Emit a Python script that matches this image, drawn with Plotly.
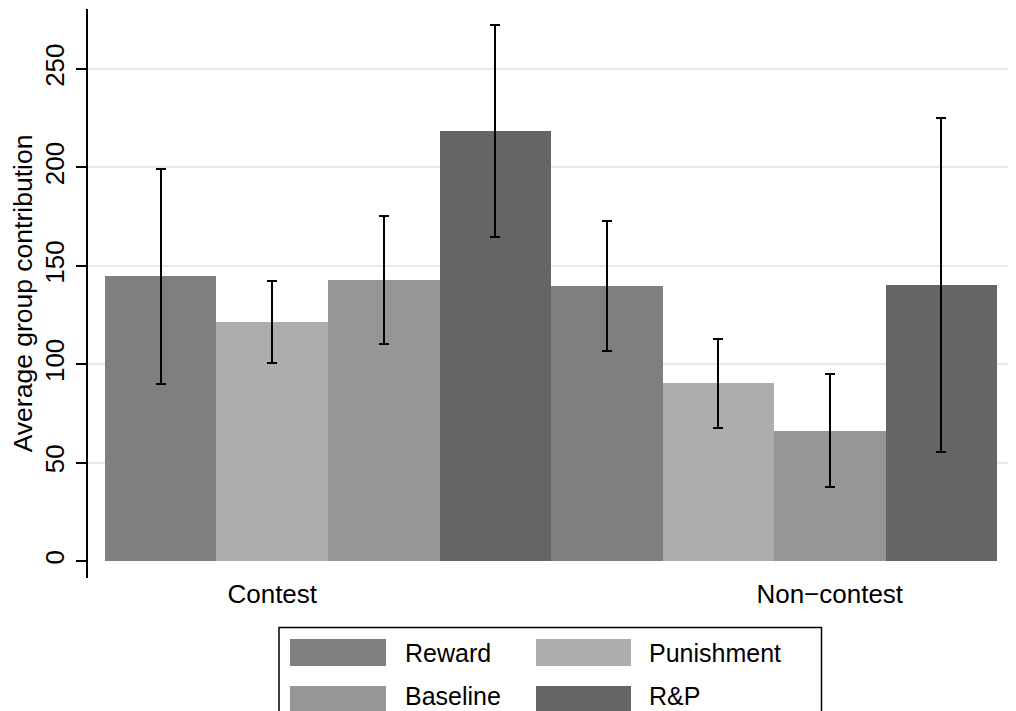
import plotly.graph_objects as go

# ---- data ----
groups = ["Contest", "Non\u2212contest"]
treatments = ["Reward", "Punishment", "Baseline", "R&P"]
means = {
    "Reward":     [144.7, 139.7],
    "Punishment": [121.4, 90.3],
    "Baseline":   [142.6, 66.2],
    "R&P":        [218.5, 140.1],
}
ci_upper = {
    "Reward":     [199.2, 172.8],
    "Punishment": [142.3, 112.7],
    "Baseline":   [175.1, 95.0],
    "R&P":        [272.4, 224.9],
}
ci_lower = {
    "Reward":     [89.9, 106.7],
    "Punishment": [100.4, 67.7],
    "Baseline":   [110.1, 37.4],
    "R&P":        [164.8, 55.4],
}
y_ticks = [0, 50, 100, 150, 200, 250]
y_title = "Average group contribution"

colors = {
    "Reward": "#7f7f7f",
    "Punishment": "#adadad",
    "Baseline": "#969696",
    "R&P": "#656565",
}

FONT = "Liberation Sans, Arial, Helvetica, sans-serif"
OFF = 8  # page body margin
SW, SH = 1016, 711          # screen
W, H = SW - OFF, SH - OFF   # figure
PL, PR, PT, PB = 88, 1014, 9, 578   # plot area on screen
L, R, T, B = PL - OFF, SW - PR, PT - OFF, SH - PB
PW, PH = PR - PL, PB - PT


def px_x(p):
    return (p - PL) / PW


def px_y(p):
    return (PB - p) / PH


fig = go.Figure()
gx = list(range(len(groups)))
for t in treatments:
    up = [u - m for u, m in zip(ci_upper[t], means[t])]
    dn = [m - l for m, l in zip(means[t], ci_lower[t])]
    fig.add_trace(go.Bar(
        x=gx, y=means[t], name=t,
        marker=dict(color=colors[t], line=dict(width=0)),
        error_y=dict(type="data", array=up, arrayminus=dn, symmetric=False,
                     color="black", thickness=2, width=5),
        showlegend=False,
    ))

# invisible trace on overlay axis to carry the grid (no gridline at 0)
fig.add_trace(go.Scatter(x=[gx[0]], y=[y_ticks[1]], yaxis="y2", mode="markers",
                         marker=dict(opacity=0), showlegend=False, hoverinfo="skip"))

# x-label positions: Stata centres labels off the group centre
label_pos = [gx[0] - 0.125, gx[-1] + 0.125]

fig.update_layout(
    width=W, height=H,
    margin=dict(l=L, r=R, t=T, b=B, autoexpand=False),
    paper_bgcolor="white", plot_bgcolor="white",
    barmode="group", bargap=0, bargroupgap=0,
    font=dict(family=FONT, size=26, color="black"),
    xaxis=dict(range=[-0.5381, 1.5381], tickmode="array", tickvals=label_pos,
               ticktext=groups, ticks="", showline=False, showgrid=False,
               zeroline=False, tickfont=dict(size=26), ticklabelstandoff=-2),
    yaxis=dict(range=[-8.6, 280.5], tickmode="array", tickvals=y_ticks,
               ticks="outside", ticklen=10, tickwidth=2, tickcolor="black",
               showline=True, linewidth=2, linecolor="black",
               showgrid=False, zeroline=False, tickangle=-90,
               tickfont=dict(size=26), ticklabelstandoff=2,
               title=dict(text=y_title, font=dict(size=26.5), standoff=3)),
    yaxis2=dict(range=[-8.6, 280.5], overlaying="y", side="left",
                tickmode="array", tickvals=y_ticks[1:], showticklabels=False,
                ticks="", showline=False, zeroline=False,
                showgrid=True, gridcolor="#e8e8e8", gridwidth=2),
)

# ---- legend (drawn as a Stata-style box) ----
shapes = [dict(type="rect", xref="paper", yref="paper",
               x0=px_x(279), x1=px_x(821.5), y0=px_y(727), y1=px_y(627.5),
               line=dict(color="black", width=1.5), fillcolor="white", layer="above")]
annotations = []
col_sw = [(290, 386), (536, 631)]
col_tx = [403, 647]
row_sw = [(639, 666), (686, 712)]
row_tx = [653, 696]
for i, t in enumerate(treatments):
    r, c = divmod(i, 2)
    shapes.append(dict(type="rect", xref="paper", yref="paper",
                       x0=px_x(col_sw[c][0]), x1=px_x(col_sw[c][1]),
                       y0=px_y(row_sw[r][1]), y1=px_y(row_sw[r][0]),
                       line=dict(width=0), fillcolor=colors[t], layer="above"))
    annotations.append(dict(text=t, xref="paper", yref="paper",
                            x=px_x(col_tx[c]), y=px_y(row_tx[r]),
                            xanchor="left", yanchor="middle", showarrow=False,
                            font=dict(size=25, family=FONT, color="black")))
fig.update_layout(shapes=shapes, annotations=annotations)

fig.write_html("out.html")
